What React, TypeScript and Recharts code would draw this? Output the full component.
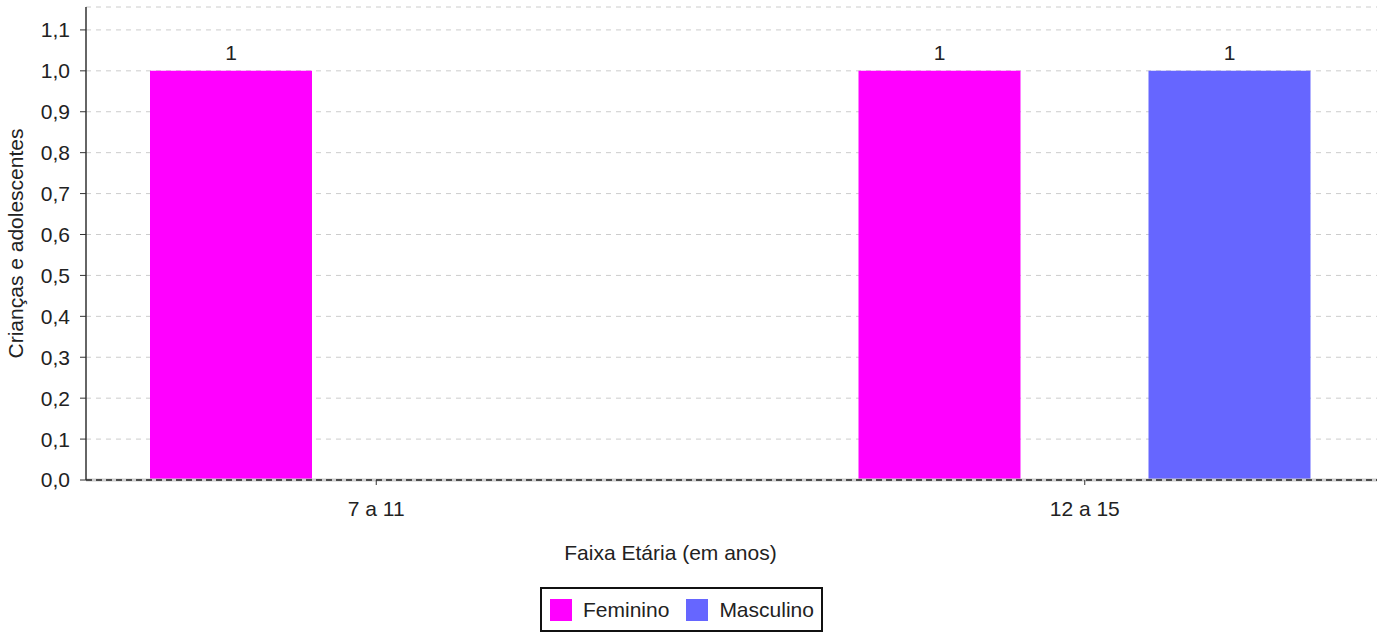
import React from 'react';
import {
  BarChart,
  Bar,
  XAxis,
  YAxis,
  CartesianGrid,
  ReferenceLine,
  LabelList,
  Label,
} from 'recharts';

const categories = ['7 a 11', '12 a 15'];
const feminino = [1, 1];
const masculino = [0, 1];
const yTicks = [0, 0.1, 0.2, 0.3, 0.4, 0.5, 0.6, 0.7, 0.8, 0.9, 1.0, 1.1];

const FONT = '"Liberation Sans", Arial, Helvetica, sans-serif';
const PINK = '#ff00ff';
const BLUE = '#6666ff';

const data = categories.map((faixa, i) => ({
  faixa,
  Feminino: feminino[i],
  Masculino: masculino[i],
}));

const fmt = (v: number) => v.toFixed(1).replace('.', ',');
// no label on empty bars
const barLabel = (v: any) => (v ? String(v) : '');

const tickStyle = { fontSize: 21, fill: '#222', fontFamily: FONT };

const LegendItem = ({ color, text }: { color: string; text: string }) => (
  <div style={{ display: 'flex', alignItems: 'center', marginRight: 17 }}>
    <div style={{ width: 22, height: 22, background: color, marginRight: 11 }} />
    <span style={{ fontSize: 21, color: '#222' }}>{text}</span>
  </div>
);

export default function App() {
  return (
    <div style={{ position: 'absolute', left: 0, top: 0, width: 1382, height: 633, fontFamily: FONT, background: '#fff' }}>
      <BarChart
        width={1382}
        height={633}
        data={data}
        margin={{ top: 7, right: 5, left: 0, bottom: 0 }}
        barSize={162}
        barGap={128}
      >
        <CartesianGrid vertical={false} stroke="#cccccc" strokeDasharray="5 5" />
        <XAxis
          dataKey="faixa"
          height={153}
          padding={{ left: -64, right: -62 }}
          axisLine={false}
          tickLine={{ stroke: '#333' }}
          tickSize={5}
          tickMargin={16}
          tick={tickStyle}
        >
          <Label
            value="Faixa Etária (em anos)"
            position="insideTop"
            offset={65}
            dx={-61}
            style={{ fontSize: 21, fill: '#222', fontFamily: FONT }}
          />
        </XAxis>
        <YAxis
          width={86}
          type="number"
          domain={[0, 1.156]}
          ticks={yTicks}
          tickFormatter={fmt}
          allowDataOverflow
          axisLine={{ stroke: '#333', strokeWidth: 1.5 }}
          tickLine={{ stroke: '#333' }}
          tickSize={6}
          tickMargin={10}
          tick={tickStyle}
        >
          <Label
            value="Crianças e adolescentes"
            angle={-90}
            position="center"
            dx={-27}
            style={{ fontSize: 21, fill: '#222', fontFamily: FONT, textAnchor: 'middle' }}
          />
        </YAxis>
        <ReferenceLine y={0} stroke="#cccccc" strokeWidth={3} />
        <ReferenceLine y={0} stroke="#222" strokeWidth={1.5} strokeDasharray="6 4" />
        <Bar dataKey="Feminino" fill={PINK} isAnimationActive={false}>
          <LabelList dataKey="Feminino" position="top" offset={11} formatter={barLabel} style={tickStyle} />
        </Bar>
        <Bar dataKey="Masculino" fill={BLUE} isAnimationActive={false}>
          <LabelList dataKey="Masculino" position="top" offset={11} formatter={barLabel} style={tickStyle} />
        </Bar>
      </BarChart>
      <div
        style={{
          position: 'absolute',
          left: 540,
          top: 587,
          width: 283,
          height: 45,
          boxSizing: 'border-box',
          border: '2px solid #111',
          display: 'flex',
          alignItems: 'center',
          paddingLeft: 8,
        }}
      >
        <LegendItem color={PINK} text="Feminino" />
        <LegendItem color={BLUE} text="Masculino" />
      </div>
    </div>
  );
}
